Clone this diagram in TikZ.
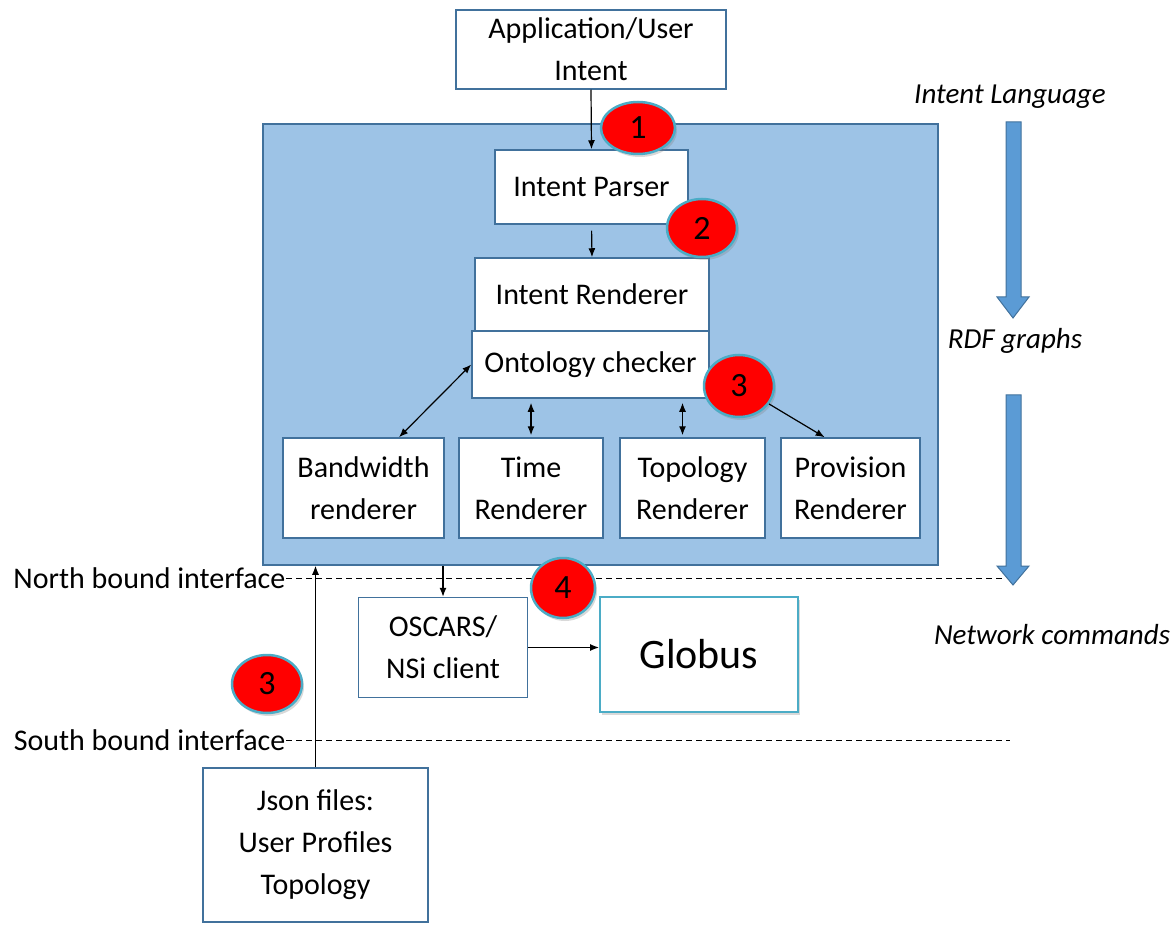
\documentclass[tikz,border=0pt]{standalone}
\usepackage{fontspec}
\setmainfont{Carlito}
\usetikzlibrary{arrows.meta,positioning,calc,shapes.geometric,shadows}

\definecolor{boxline}{RGB}{65,113,156}
\definecolor{sysfill}{RGB}{157,195,230}
\definecolor{flowblue}{RGB}{91,155,213}
\definecolor{badgeline}{RGB}{75,172,198}

\begin{document}
\begin{tikzpicture}[
    x=1pt, y=-1pt,
    >={Latex[length=9pt,width=7pt]},
    line width=1.2pt,
    font=\fontsize{30}{42}\selectfont,
    every node/.style={align=center},
    whitebox/.style={draw=boxline, line width=1.5pt, fill=white, inner sep=0pt},
    sysbox/.style={draw=boxline, line width=1.5pt, fill=sysfill, inner sep=0pt},
    globusbox/.style={draw=badgeline, line width=2pt, fill=white, inner sep=0pt,
        drop shadow={opacity=0.3, shadow xshift=2pt, shadow yshift=-3pt}},
    badge/.style={ellipse, draw=badgeline, line width=2.5pt, fill=red, inner sep=0pt,
        minimum width=70pt, minimum height=58pt, font=\fontsize{34}{40}\selectfont,
        drop shadow={opacity=0.3, shadow xshift=2pt, shadow yshift=-3pt}},
    flowarrow/.style={draw=boxline, line width=1pt, fill=flowblue},
    sidelabel/.style={font=\fontsize{29}{34}\selectfont\itshape},
    ifacelabel/.style={anchor=east, inner sep=0pt},
    iface/.style={dashed, line width=1pt, dash pattern=on 6pt off 4pt}
]

\useasboundingbox (0,0) rectangle (1176,925);

% -------------------------------------------------
% INTERFACE LINES
% -------------------------------------------------
\node[ifacelabel] (north) at (286,578) {North bound interface};
\node[ifacelabel] (south) at (286,740) {South bound interface};
\coordinate (northend) at (1003,578);
\coordinate (southend) at (1010,740);
\draw[iface] (north.east) -- (northend);
\draw[iface] (south.east) -- (southend);

% -------------------------------------------------
% INTENT SYSTEM
% -------------------------------------------------
\node[whitebox, minimum width=270pt, minimum height=79pt] (app) at (591,49.5) {Application/User\\Intent};

\node[sysbox, minimum width=675pt, minimum height=441pt] (sys) at (600.5,344.5) {};

\node[whitebox, minimum width=193pt, minimum height=74pt] (parser) at (591.5,187) {Intent Parser};
\node[whitebox, minimum width=234pt, minimum height=73pt] (rend) at (592,294.5) {Intent Renderer};
\node[whitebox, minimum width=237pt, minimum height=67pt] (onto) at (590.5,364.5) {Ontology checker};

% renderers
\node[whitebox, minimum width=161pt, minimum height=100pt] (bw) at (363.5,488) {Bandwidth\\renderer};
\node[whitebox, minimum width=144pt, minimum height=100pt] (time) at (531,488) {Time\\Renderer};
\node[whitebox, minimum width=145pt, minimum height=100pt] (topo) at (692.5,488) {Topology\\Renderer};
\node[whitebox, minimum width=139pt, minimum height=100pt] (prov) at (850.5,488) {Provision\\Renderer};

% arrows inside
\draw[->] (app.south) -- (parser.north);
\draw[->, shorten <=6pt] (parser.south) -- (rend.north);
\draw[<->] (onto.west) -- (bw.55);
\draw[<->, shorten <=4pt, shorten >=2pt] (onto.south -| time.north) -- (time.north);
\draw[<->, shorten <=4pt, shorten >=2pt] ([xshift=-10pt]topo.north |- onto.south) -- ([xshift=-10pt]topo.north);

% -------------------------------------------------
% NETWORK SIDE
% -------------------------------------------------
\node[whitebox, minimum width=169pt, minimum height=100pt] (oscars) at (443,647.5) {OSCARS/\\NSi client};
\node[globusbox, minimum width=198pt, minimum height=115pt, font=\fontsize{42}{48}\selectfont] (globus) at (699,654.5) {Globus};
\node[whitebox, minimum width=225pt, minimum height=154pt] (json) at (315.5,845) {Json files:\\User Profiles\\Topology};

\draw[->] (sys.south -| oscars.north) -- (oscars.north);
\draw[->] (oscars.east) -- (oscars.east -| globus.west);
\draw[->] (json.north) -- (json.north |- sys.south);

% -------------------------------------------------
% STEP BADGES
% -------------------------------------------------
\node[badge, minimum width=74pt, minimum height=52pt] (b1) at (638,128) {1};
\node[badge] (b2) at (702,228) {2};
\node[badge, minimum height=62pt] (b3) at (739,386) {3};
\node[badge, minimum width=64pt, minimum height=60pt] (b4) at (563,588) {4};
\node[badge] (b3low) at (267,684) {3};

\draw[->] (b3) -- (prov.117);

% -------------------------------------------------
% RIGHT SIDE FLOW
% -------------------------------------------------
\node[sidelabel] (lang) at (1010,97) {Intent Language};
\node[sidelabel] (rdf) at (1015,341) {RDF graphs};
\node[sidelabel] (cmds) at (1052,635) {Network commands};

\draw[flowarrow] (1006,122) -- (1021,122) -- (1021,297) -- (1029,297) -- (1013,318)
    -- (997,297) -- (1006,297) -- cycle;
\draw[flowarrow] (1006,395) -- (1021,395) -- (1021,566) -- (1029,566) -- (1013,585)
    -- (997,566) -- (1006,566) -- cycle;

\end{tikzpicture}
\end{document}
